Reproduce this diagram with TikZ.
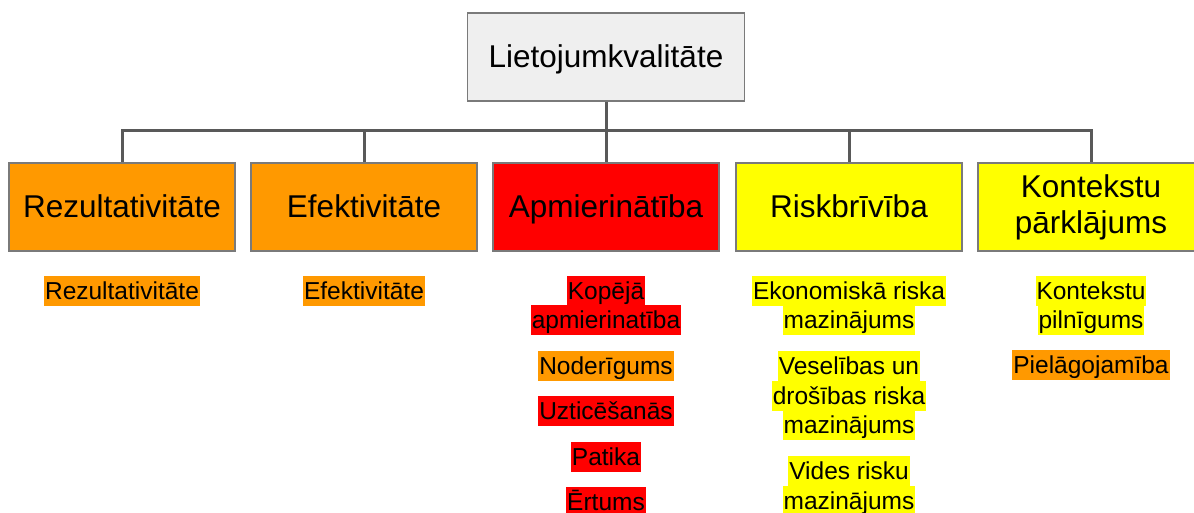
\documentclass[tikz,border=0pt]{standalone}
\usepackage{fontspec}
\setmainfont{Liberation Sans}
\definecolor{cOrange}{HTML}{FF9900}
\definecolor{cRed}{HTML}{FF0000}
\definecolor{cYellow}{HTML}{FFFF00}
\definecolor{cGrayFill}{HTML}{EFEFEF}
\definecolor{cBorder}{HTML}{7A7A7A}
\definecolor{cLine}{HTML}{595959}
\tikzset{
  bigbox/.style={draw=cBorder, line width=1.5pt, minimum width=226pt, minimum height=88pt,
    inner sep=0pt, align=center, font=\fontsize{31.5}{36}\selectfont},
  onebox/.style={bigbox, text height=26pt, text depth=4pt},
  hl/.style={inner xsep=1pt, inner ysep=0pt, text height=23pt, text depth=7pt, anchor=north,
    font=\fontsize{24.5}{29}\selectfont},
  conn/.style={draw=cLine, line width=3pt}
}
\begin{document}
\begin{tikzpicture}[x=1pt,y=-1pt]
\useasboundingbox (0,0) rectangle (1194,513);
\node[onebox, fill=cGrayFill, minimum width=277pt] (top) at (606,57) {Lietojumkvalitāte};
\node[onebox, fill=cOrange] (b1) at (122,207) {Rezultativitāte};
\node[onebox, fill=cOrange] (b2) at (364,207) {Efektivitāte};
\node[onebox, fill=cRed] (b3) at (606,207) {Apmierinātība};
\node[onebox, fill=cYellow] (b4) at (849,207) {Riskbrīvība};
\node[bigbox, fill=cYellow] (b5) at (1091,207) {Kontekstu\\pārklājums};
\coordinate (bus) at (606,131);
\draw[conn] (top.south) -- (bus);
\foreach \b in {b1,b2,b3,b4,b5} \draw[conn] (bus) -| (\b.north);
% column 1
\node[hl, fill=cOrange] (r1) at (122,276) {Rezultativitāte};
% column 2
\node[hl, fill=cOrange] (e1) at (364,276) {Efektivitāte};
% column 3
\node[hl, fill=cRed] (a1) at (606,276) {Kopējā};
\node[hl, fill=cRed] (a2) at (606,305) {apmierinatība};
\node[hl, fill=cOrange] (a3) at (606,351) {Noderīgums};
\node[hl, fill=cRed] (a4) at (606,396) {Uzticēšanās};
\node[hl, fill=cRed] (a5) at (606,442) {Patika};
\node[hl, fill=cRed] (a6) at (606,487) {Ērtums};
% column 4
\node[hl, fill=cYellow] (k1) at (849,276) {Ekonomiskā riska};
\node[hl, fill=cYellow] (k2) at (849,305) {mazinājums};
\node[hl, fill=cYellow] (k3) at (849,351) {Veselības un};
\node[hl, fill=cYellow] (k4) at (849,381) {drošības riska};
\node[hl, fill=cYellow] (k5) at (849,410) {mazinājums};
\node[hl, fill=cYellow] (k6) at (849,456) {Vides risku};
\node[hl, fill=cYellow] (k7) at (849,486) {mazinājums};
% column 5
\node[hl, fill=cYellow] (c1) at (1091,276) {Kontekstu};
\node[hl, fill=cYellow] (c2) at (1091,305) {pilnīgums};
\node[hl, fill=cOrange] (c3) at (1091,350) {Pielāgojamība};
\end{tikzpicture}
\end{document}
